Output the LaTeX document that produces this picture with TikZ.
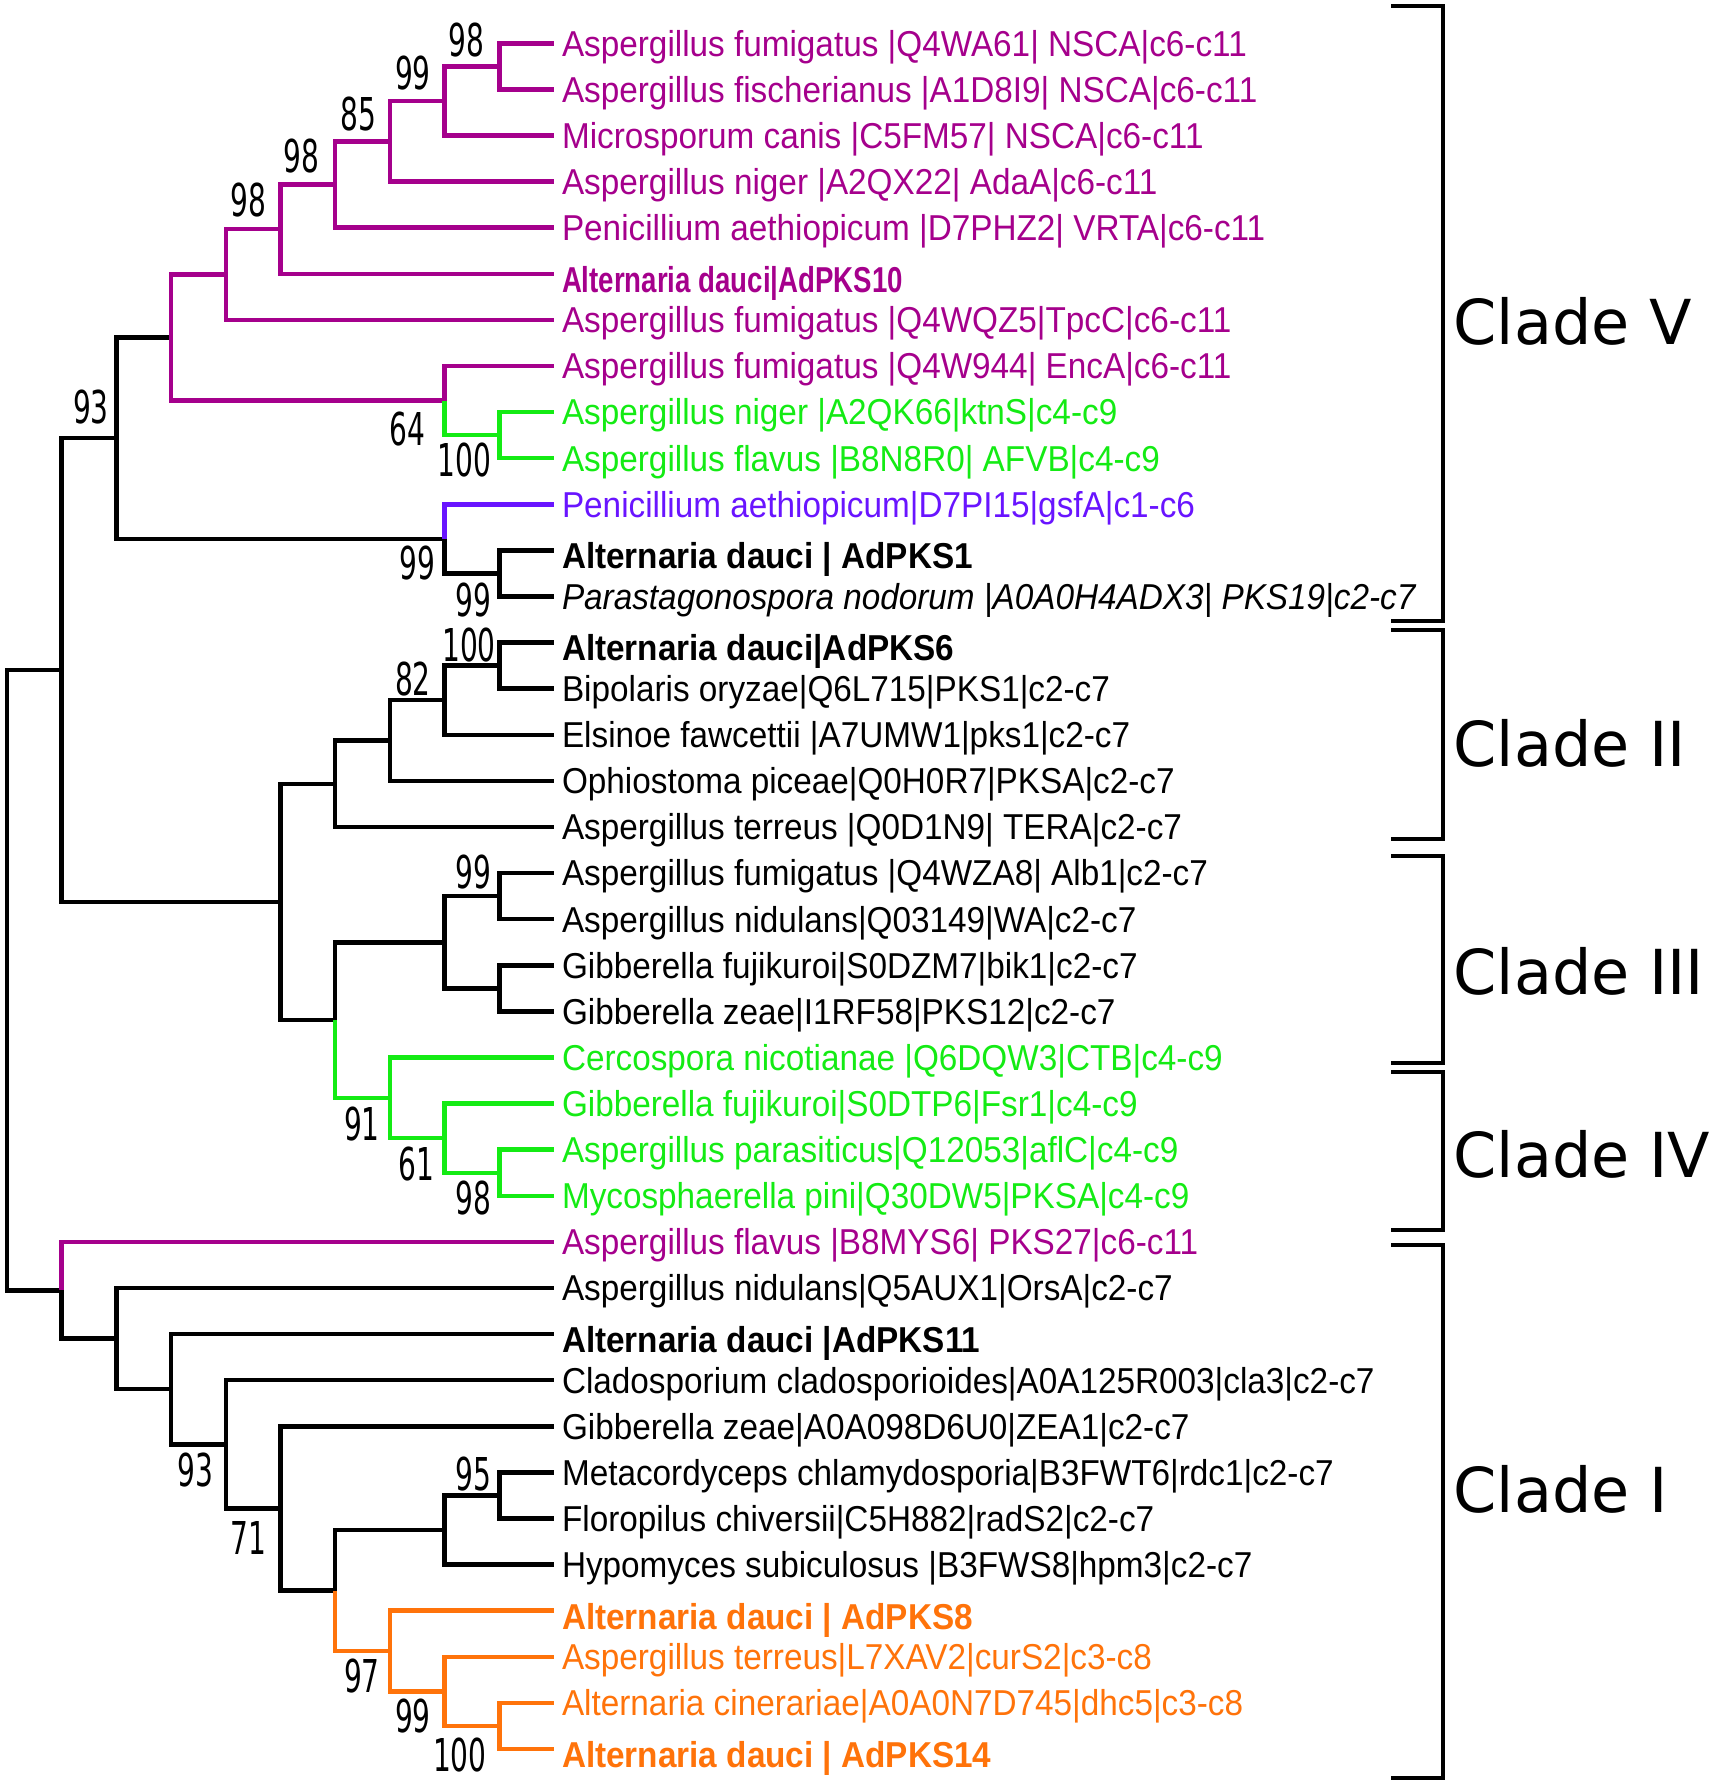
\documentclass[tikz,border=0pt]{standalone}
\usepackage{fontspec}
\setmainfont{Liberation Sans}[FakeStretch=0.925]
\newfontfamily\bsfont{DejaVu Sans}[FakeStretch=0.62]
\newfontfamily\cladefont{DejaVu Sans}
\definecolor{cmag}{RGB}{165,0,140}
\definecolor{cgrn}{RGB}{20,235,20}
\definecolor{cpur}{RGB}{105,20,255}
\definecolor{corg}{RGB}{255,115,10}
\newcommand\mkn[3]{\coordinate (#1) at ({7+54.7*#2},{43.3+(#3-1)*46.1});}
\newcommand\mkleaf[3]{\node[leaf,#2] (L#1) at (554,{43.3+(#1-1)*46.1}) {#3};}
\newcommand\brn[3]{\draw[br,#1] (#2) |- (#3);}
\newcommand\bsn[4]{\node[bsl] (#1) at (#2,#3) {#4};}
\begin{document}
\begin{tikzpicture}[x=0.4pt,y=-0.4pt,
  br/.style={line width=1.8pt},
  brk/.style={line width=1.6pt},
  leaf/.style={anchor=west,inner xsep=3.2pt,inner ysep=0pt,outer sep=0pt,
    text height=11pt,text depth=0.7pt,font=\fontsize{14.4pt}{16pt}\selectfont},
  bsl/.style={inner sep=0pt,font=\bsfont\fontsize{18.1pt}{20pt}\selectfont},
  clab/.style={anchor=west,inner sep=0pt,font=\cladefont\fontsize{24.8pt}{28pt}\selectfont}]
\useasboundingbox (0,0) rectangle (1714,1784);
% ---------- leaves ----------
\mkleaf{1}{text=cmag}{Aspergillus fumigatus |Q4WA61| NSCA|c6-c11}
\mkleaf{2}{text=cmag}{Aspergillus fischerianus |A1D8I9| NSCA|c6-c11}
\mkleaf{3}{text=cmag}{Microsporum canis |C5FM57| NSCA|c6-c11}
\mkleaf{4}{text=cmag}{Aspergillus niger |A2QX22| AdaA|c6-c11}
\mkleaf{5}{text=cmag}{Penicillium aethiopicum |D7PHZ2| VRTA|c6-c11}
\mkleaf{6}{text=cmag}{\raisebox{-2.2pt}{\scalebox{0.83}[1]{\bfseries Alternaria dauci|AdPKS10}}}
\mkleaf{7}{text=cmag}{Aspergillus fumigatus |Q4WQZ5|TpcC|c6-c11}
\mkleaf{8}{text=cmag}{Aspergillus fumigatus |Q4W944| EncA|c6-c11}
\mkleaf{9}{text=cgrn}{Aspergillus niger |A2QK66|ktnS|c4-c9}
\mkleaf{10}{text=cgrn}{Aspergillus flavus |B8N8R0| AFVB|c4-c9}
\mkleaf{11}{text=cpur}{Penicillium aethiopicum|D7PI15|gsfA|c1-c6}
\mkleaf{12}{}{\raisebox{-2.2pt}{\bfseries Alternaria dauci | AdPKS1}}
\mkleaf{13}{}{\itshape Parastagonospora nodorum |A0A0H4ADX3| PKS19|c2-c7}
\mkleaf{14}{}{\raisebox{-2.2pt}{\bfseries Alternaria dauci|AdPKS6}}
\mkleaf{15}{}{Bipolaris oryzae|Q6L715|PKS1|c2-c7}
\mkleaf{16}{}{Elsinoe fawcettii |A7UMW1|pks1|c2-c7}
\mkleaf{17}{}{Ophiostoma piceae|Q0H0R7|PKSA|c2-c7}
\mkleaf{18}{}{Aspergillus terreus |Q0D1N9| TERA|c2-c7}
\mkleaf{19}{}{Aspergillus fumigatus |Q4WZA8| Alb1|c2-c7}
\mkleaf{20}{}{Aspergillus nidulans|Q03149|WA|c2-c7}
\mkleaf{21}{}{Gibberella fujikuroi|S0DZM7|bik1|c2-c7}
\mkleaf{22}{}{Gibberella zeae|I1RF58|PKS12|c2-c7}
\mkleaf{23}{text=cgrn}{Cercospora nicotianae |Q6DQW3|CTB|c4-c9}
\mkleaf{24}{text=cgrn}{Gibberella fujikuroi|S0DTP6|Fsr1|c4-c9}
\mkleaf{25}{text=cgrn}{Aspergillus parasiticus|Q12053|aflC|c4-c9}
\mkleaf{26}{text=cgrn}{Mycosphaerella pini|Q30DW5|PKSA|c4-c9}
\mkleaf{27}{text=cmag}{Aspergillus flavus |B8MYS6| PKS27|c6-c11}
\mkleaf{28}{}{Aspergillus nidulans|Q5AUX1|OrsA|c2-c7}
\mkleaf{29}{}{\raisebox{-2.2pt}{\bfseries Alternaria dauci |AdPKS11}}
\mkleaf{30}{}{Cladosporium cladosporioides|A0A125R003|cla3|c2-c7}
\mkleaf{31}{}{Gibberella zeae|A0A098D6U0|ZEA1|c2-c7}
\mkleaf{32}{}{Metacordyceps chlamydosporia|B3FWT6|rdc1|c2-c7}
\mkleaf{33}{}{Floropilus chiversii|C5H882|radS2|c2-c7}
\mkleaf{34}{}{Hypomyces subiculosus |B3FWS8|hpm3|c2-c7}
\mkleaf{35}{text=corg}{\raisebox{-2.2pt}{\bfseries Alternaria dauci | AdPKS8}}
\mkleaf{36}{text=corg}{Aspergillus terreus|L7XAV2|curS2|c3-c8}
\mkleaf{37}{text=corg}{Alternaria cinerariae|A0A0N7D745|dhc5|c3-c8}
\mkleaf{38}{text=corg}{\raisebox{-2.2pt}{\bfseries Alternaria dauci | AdPKS14}}
% ---------- internal nodes ----------
\mkn{nX}{9}{1.5}
\mkn{nW}{8}{2.25}
\mkn{nV}{7}{3.125}
\mkn{nU}{6}{4.0625}
\mkn{nT}{5}{5.03125}
\mkn{nR}{4}{6.015625}
\mkn{nY}{9}{9.5}
\mkn{nS}{8}{8.75}
\mkn{nP}{3}{7.3828125}
\mkn{nZ}{9}{12.5}
\mkn{nQ}{8}{11.75}
\mkn{nN}{2}{9.56640625}
\mkn{nK4}{9}{14.5}
\mkn{nK3}{8}{15.25}
\mkn{nK2}{7}{16.125}
\mkn{nK}{6}{17.0625}
\mkn{nJ2}{9}{19.5}
\mkn{nJ3}{9}{21.5}
\mkn{nJ1}{8}{20.5}
\mkn{nG3}{9}{25.5}
\mkn{nG2}{8}{24.75}
\mkn{nG1}{7}{23.875}
\mkn{nJ}{6}{22.1875}
\mkn{nM}{5}{19.625}
\mkn{nA}{1}{14.595703}
\mkn{nB8}{9}{32.5}
\mkn{nB7}{8}{33.25}
\mkn{nO3}{9}{37.5}
\mkn{nO2}{8}{36.75}
\mkn{nO1}{7}{35.875}
\mkn{nB6}{6}{34.5625}
\mkn{nB5}{5}{32.78125}
\mkn{nB4}{4}{31.390625}
\mkn{nB3}{3}{30.1953125}
\mkn{nB2}{2}{29.09765625}
\mkn{nB}{1}{28.048828}
\mkn{nRoot}{0}{21.322266}
% ---------- branches ----------
\brn{black}{nRoot}{nA}\brn{black}{nRoot}{nB}
\brn{black}{nA}{nN}\brn{black}{nA}{nM}
\brn{black}{nN}{nP}\brn{black}{nN}{nQ}
\brn{cmag}{nP}{nR}\brn{cmag}{nP}{nS}
\brn{cmag}{nR}{nT}\brn{cmag}{nR}{L7}
\brn{cmag}{nT}{nU}\brn{cmag}{nT}{L6}
\brn{cmag}{nU}{nV}\brn{cmag}{nU}{L5}
\brn{cmag}{nV}{nW}\brn{cmag}{nV}{L4}
\brn{cmag}{nW}{nX}\brn{cmag}{nW}{L3}
\brn{cmag}{nX}{L1}\brn{cmag}{nX}{L2}
\brn{cmag}{nS}{L8}\brn{cgrn}{nS}{nY}
\brn{cgrn}{nY}{L9}\brn{cgrn}{nY}{L10}
\brn{cpur}{nQ}{L11}\brn{black}{nQ}{nZ}
\brn{black}{nZ}{L12}\brn{black}{nZ}{L13}
\brn{black}{nM}{nK}\brn{black}{nM}{nJ}
\brn{black}{nK}{nK2}\brn{black}{nK}{L18}
\brn{black}{nK2}{nK3}\brn{black}{nK2}{L17}
\brn{black}{nK3}{nK4}\brn{black}{nK3}{L16}
\brn{black}{nK4}{L14}\brn{black}{nK4}{L15}
\brn{black}{nJ}{nJ1}\brn{cgrn}{nJ}{nG1}
\brn{black}{nJ1}{nJ2}\brn{black}{nJ1}{nJ3}
\brn{black}{nJ2}{L19}\brn{black}{nJ2}{L20}
\brn{black}{nJ3}{L21}\brn{black}{nJ3}{L22}
\brn{cgrn}{nG1}{L23}\brn{cgrn}{nG1}{nG2}
\brn{cgrn}{nG2}{L24}\brn{cgrn}{nG2}{nG3}
\brn{cgrn}{nG3}{L25}\brn{cgrn}{nG3}{L26}
\brn{cmag}{nB}{L27}\brn{black}{nB}{nB2}
\brn{black}{nB2}{L28}\brn{black}{nB2}{nB3}
\brn{black}{nB3}{L29}\brn{black}{nB3}{nB4}
\brn{black}{nB4}{L30}\brn{black}{nB4}{nB5}
\brn{black}{nB5}{L31}\brn{black}{nB5}{nB6}
\brn{black}{nB6}{nB7}\brn{corg}{nB6}{nO1}
\brn{black}{nB7}{nB8}\brn{black}{nB7}{L34}
\brn{black}{nB8}{L32}\brn{black}{nB8}{L33}
\brn{corg}{nO1}{L35}\brn{corg}{nO1}{nO2}
\brn{corg}{nO2}{L36}\brn{corg}{nO2}{nO3}
\brn{corg}{nO3}{L37}\brn{corg}{nO3}{L38}
% ---------- bootstrap values ----------
\bsn{bs1}{466.6}{39.8}{98}
\bsn{bs2}{413}{72.8}{99}
\bsn{bs3}{358.5}{113.8}{85}
\bsn{bs4}{301.6}{155.9}{98}
\bsn{bs5}{248.1}{200.3}{98}
\bsn{bs6}{91}{407.4}{93}
\bsn{bs7}{407.4}{429}{64}
\bsn{bs8}{464.3}{460}{100}
\bsn{bs9}{417.7}{563.4}{99}
\bsn{bs10}{473.4}{600}{99}
\bsn{bs11}{469}{645}{100}
\bsn{bs12}{413}{679.4}{82}
\bsn{bs13}{473.4}{871.7}{99}
\bsn{bs14}{361.9}{1124.4}{91}
\bsn{bs15}{416.5}{1164.2}{61}
\bsn{bs16}{473.4}{1198.4}{98}
\bsn{bs17}{195.7}{1470.4}{93}
\bsn{bs18}{248.1}{1537.5}{71}
\bsn{bs19}{473.4}{1473.8}{95}
\bsn{bs20}{361.9}{1676.3}{97}
\bsn{bs21}{413}{1716.1}{99}
\bsn{bs22}{459.8}{1754.8}{100}
% ---------- clade brackets ----------
\draw[brk] (1391,5.7) -- (1443,5.7) -- (1443,621) -- (1391,621);
\draw[brk] (1391,630) -- (1443,630) -- (1443,839) -- (1391,839);
\draw[brk] (1391,856) -- (1443,856) -- (1443,1063) -- (1391,1063);
\draw[brk] (1391,1072) -- (1443,1072) -- (1443,1230) -- (1391,1230);
\draw[brk] (1391,1245) -- (1443,1245) -- (1443,1778) -- (1391,1778);
\node[clab] (cV) at (1453,321) {Clade V};
\node[clab] (cII) at (1453,743) {Clade II};
\node[clab] (cIII) at (1453,971) {Clade III};
\node[clab] (cIV) at (1453,1154) {Clade IV};
\node[clab] (cI) at (1453,1489) {Clade I};
\end{tikzpicture}
\end{document}
